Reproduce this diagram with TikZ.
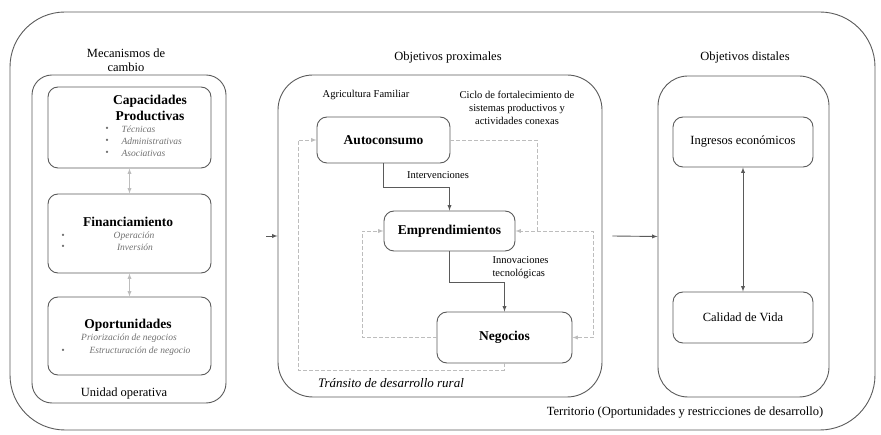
\documentclass[tikz,border=0pt]{standalone}
\usepackage{fontspec}
\setmainfont{Liberation Serif}
\usetikzlibrary{positioning}
\usetikzlibrary{arrows}
\definecolor{borde}{HTML}{5A5A5A}
\definecolor{gris}{HTML}{BDBDBD}
\definecolor{item}{HTML}{707070}
\tikzset{>=latex,
	every node/.style={font=\fontsize{12.5}{14}\selectfont},
	panel/.style={
		draw=borde,
		line width=0.9pt,
		inner sep=0pt},
	caja/.style={
		draw=borde,
		line width=0.9pt,
		rounded corners=10pt,
		inner sep=0pt},
	titulo/.style={font=\fontsize{13.5}{16}\selectfont\bfseries},
	nota/.style={font=\fontsize{10.5}{13}\selectfont},
	vineta/.style={font=\fontsize{9.5}{11}\selectfont\itshape, text=item},
	flecha/.style={->, draw=borde, line width=0.9pt},
	ciclo/.style={->, draw=gris, line width=0.9pt, dash pattern=on 4pt off 2pt},
	enlace/.style={<->, draw=gris, line width=0.9pt}
}
\begin{document}
\begin{tikzpicture}[x=1pt,y=-1pt]
	\useasboundingbox (0,0) rectangle (881,435);
	% territorio
	\draw[borde, line width=0.9pt, rounded corners=55pt] (10,12) rectangle (875,430);
	\node (territorio) at (685,413) {Territorio (Oportunidades y restricciones de desarrollo)};

	% mecanismos de cambio
	\node[align=center] (mecanismos) at (126,60) {Mecanismos de\\cambio};
	\node[panel, rounded corners=20pt, minimum width=194pt, minimum height=328pt] (unidad) at (129,239) {};
	\node (unidadtxt) at (124,393) {Unidad operativa};
	\node[caja, minimum width=163pt, minimum height=81pt] (cap) at (129.5,127.5) {};
	\node[caja, minimum width=163pt, minimum height=79pt] (fin) at (129.5,233.5) {};
	\node[caja, minimum width=163pt, minimum height=78pt] (opo) at (129.5,336) {};
	\node[titulo, align=center] (captxt) at (150,108) {Capacidades\\Productivas};
	\node[vineta] (b1) at (107,129) {\textbullet};
	\node[vineta] (b2) at (107,141) {\textbullet};
	\node[vineta] (b3) at (107,153) {\textbullet};
	\node[vineta, anchor=west] (i1) at (118,129) {Técnicas};
	\node[vineta, anchor=west] (i2) at (118,141) {Administrativas};
	\node[vineta, anchor=west] (i3) at (118,153) {Asociativas};
	\node[titulo] (fintxt) at (128,222) {Financiamiento};
	\node[vineta] (b4) at (63,236) {\textbullet};
	\node[vineta] (b5) at (63,247) {\textbullet};
	\node[vineta] (i4) at (134,236) {Operación};
	\node[vineta] (i5) at (135,247) {Inversión};
	\node[titulo] (opotxt) at (128,325) {Oportunidades};
	\node[vineta] (i6) at (129,338) {Priorización de negocios};
	\node[vineta] (b6) at (63,351) {\textbullet};
	\node[vineta] (i7) at (140,351) {Estructuración de negocio};
	\draw[enlace] (cap) -- (fin);
	\draw[enlace] (fin) -- (opo);

	% objetivos proximales
	\node (proximales) at (448,57) {Objetivos proximales};
	\node[panel, rounded corners=35pt, minimum width=324pt, minimum height=322pt] (transito) at (440,236) {};
	\node[nota] (agricultura) at (366,95) {Agricultura Familiar};
	\node[nota, align=center] (cicloTxt) at (517,108) {Ciclo de fortalecimiento de\\sistemas productivos y\\actividades conexas};
	\node[font=\fontsize{13}{15}\selectfont\itshape] (transitotxt) at (391,383) {Tránsito de desarrollo rural};
	\node[caja, titulo, minimum width=133pt, minimum height=46pt] (auto) at (383.5,140) {Autoconsumo};
	\node[caja, titulo, minimum width=131pt, minimum height=40pt] (emp) at (449.5,231) {Emprendimientos};
	\node[caja, titulo, minimum width=135pt, minimum height=51pt] (neg) at (504.5,337.5) {Negocios};
	\draw[flecha] (auto.south) -- ++(0,24) -| (emp.north);
	\node[nota] (intervenciones) at (438,175) {Intervenciones};
	\draw[flecha] (emp.south) -- ++(0,31) -| (neg.north);
	\node[nota, anchor=west, align=left] (innovaciones) at (489,268) {Innovaciones\\tecnológicas};
	\coordinate (c1) at (537,231);
	\coordinate (c2) at (593,231);
	\coordinate (c3) at (362,231);
	\coordinate (c4) at (298,370);
	\draw[ciclo] (auto.east) -| (c1) -- (emp.east);
	\draw[ciclo] (c1) -- (c2) |- (neg.east);
	\draw[ciclo] (neg.west) -| (c3) -- (emp.west);
	\draw[ciclo] (neg.south) |- (c4) |- (auto.west);

	% objetivos distales
	\node (distales) at (745,57) {Objetivos distales};
	\node[panel, rounded corners=30pt, minimum width=171pt, minimum height=321pt] (meta) at (743.5,236.5) {};
	\node[caja, font=\fontsize{12.5}{14}\selectfont, minimum width=140pt, minimum height=50pt] (ing) at (743,142) {Ingresos económicos};
	\node[caja, font=\fontsize{12.5}{14}\selectfont, minimum width=140pt, minimum height=51pt] (cal) at (743,317.5) {Calidad de Vida};
	\draw[<->, draw=borde, line width=0.9pt] (ing) -- (cal);

	% entre paneles
	\coordinate (u1) at (266,236);
	\draw[flecha] (u1) -- (transito.west);
	\draw[flecha] ([xshift=10pt]transito.east) -- (meta.west);
\end{tikzpicture}
\end{document}
